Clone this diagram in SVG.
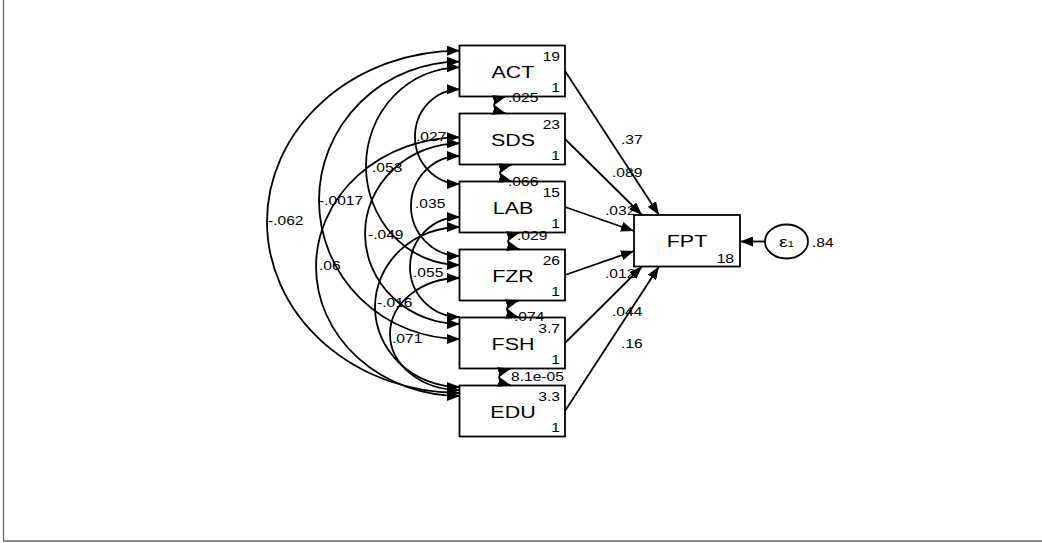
<svg xmlns="http://www.w3.org/2000/svg" width="1042" height="543" viewBox="0 0 1042 543">
<defs>
<marker id="ah" viewBox="0 0 13 10" refX="13" refY="5" markerWidth="13" markerHeight="10" markerUnits="userSpaceOnUse" orient="auto-start-reverse"><path d="M0,0 L13,5 L0,10 z" fill="#000"/></marker>
<style>
text{font-family:"Liberation Sans",Arial,sans-serif;fill:#000}
.n{font-size:16.5px;text-anchor:middle}
.s{font-size:12px}
.e{text-anchor:end}
.box{fill:#fff;stroke:#000;stroke-width:1.8}
.p{fill:none;stroke:#000;stroke-width:1.8;marker-end:url(#ah)}
.cv{fill:none;stroke:#000;stroke-width:1.8;marker-start:url(#ah);marker-end:url(#ah)}
.frame{fill:none;stroke:#666;stroke-width:1.3}
</style>
</defs>
<rect width="1042" height="543" fill="#fff"/>
<path class="frame" d="M3.5,0 V541 H1042"/>

<g id="ACT"><rect class="box" x="459.5" y="45.5" width="105.5" height="51"/>
<text class="n" transform="matrix(1.3 0 0 1 513 77.5)">ACT</text>
<text class="s e" transform="matrix(1.3 0 0 1 560 61)">19</text>
<text class="s e" transform="matrix(1.3 0 0 1 560 92)">1</text></g>

<g id="SDS"><rect class="box" x="459.5" y="113.5" width="105.5" height="51"/>
<text class="n" transform="matrix(1.3 0 0 1 513 145.5)">SDS</text>
<text class="s e" transform="matrix(1.3 0 0 1 560 129)">23</text>
<text class="s e" transform="matrix(1.3 0 0 1 560 160)">1</text></g>

<g id="LAB"><rect class="box" x="459.5" y="181.5" width="105.5" height="51"/>
<text class="n" transform="matrix(1.3 0 0 1 513 213.5)">LAB</text>
<text class="s e" transform="matrix(1.3 0 0 1 560 197)">15</text>
<text class="s e" transform="matrix(1.3 0 0 1 560 228)">1</text></g>

<g id="FZR"><rect class="box" x="459.5" y="249.5" width="105.5" height="51"/>
<text class="n" transform="matrix(1.3 0 0 1 513 281.5)">FZR</text>
<text class="s e" transform="matrix(1.3 0 0 1 560 265)">26</text>
<text class="s e" transform="matrix(1.3 0 0 1 560 296)">1</text></g>

<g id="FSH"><rect class="box" x="459.5" y="317.5" width="105.5" height="51"/>
<text class="n" transform="matrix(1.3 0 0 1 513 349.5)">FSH</text>
<text class="s e" transform="matrix(1.3 0 0 1 560 333)">3.7</text>
<text class="s e" transform="matrix(1.3 0 0 1 560 364)">1</text></g>

<g id="EDU"><rect class="box" x="459.5" y="385.5" width="105.5" height="51"/>
<text class="n" transform="matrix(1.3 0 0 1 513 417.5)">EDU</text>
<text class="s e" transform="matrix(1.3 0 0 1 560 401)">3.3</text>
<text class="s e" transform="matrix(1.3 0 0 1 560 432)">1</text></g>

<g id="FPT"><rect class="box" x="634" y="215" width="106" height="51.5"/>
<text class="n" transform="matrix(1.3 0 0 1 687 247)">FPT</text>
<text class="s e" transform="matrix(1.3 0 0 1 734 263)">18</text></g>

<g id="e1"><ellipse cx="786.5" cy="241.5" rx="21.5" ry="17" fill="#fff" stroke="#000" stroke-width="1.8"/>
<text transform="matrix(1.3 0 0 1 779 247)" style="font-size:15px">ε<tspan style="font-size:8.5px">1</tspan></text></g>

<g id="connectors">
<path class="p" d="M565,71 L659,215"/>
<path class="p" d="M565,139 L642,215"/>
<path class="p" d="M565,207 L634,231"/>
<path class="p" d="M565,275 L634,251"/>
<path class="p" d="M565,343 L642,266.5"/>
<path class="p" d="M565,411 L659,266.5"/>
<path class="p" d="M765,241.5 L740,241.5"/>

<path class="cv" d="M460,50.7 A193,171.15 0 0 0 460,393"/>
<path class="cv" d="M460,61.7 A141,138.65 0 0 0 460,339"/>
<path class="cv" d="M460,67.3 A94,98.85 0 0 0 460,265"/>
<path class="cv" d="M460,89.3 A45,47.35 0 0 0 460,184"/>
<path class="cv" d="M460,137.3 A144,129.35 0 0 0 460,396"/>
<path class="cv" d="M460,143.3 A95,90.35 0 0 0 460,324"/>
<path class="cv" d="M460,156 A49,50 0 0 0 460,256"/>
<path class="cv" d="M460,227 A85,80 0 0 0 460,387"/>
<path class="cv" d="M460,217 A50,50 0 0 0 460,317"/>
<path class="cv" d="M460,278 A70,56 0 0 0 460,390"/>

<path class="cv" d="M506,96.5 C490,101 490,109 506,113.5"/>
<path class="cv" d="M512,164.5 C496,169 496,177 512,181.5"/>
<path class="cv" d="M520,232.5 C504,237 504,245 520,249.5"/>
<path class="cv" d="M519,300.5 C503,305 503,313 519,317.5"/>
<path class="cv" d="M511,368.5 C495,373 495,381 511,385.5"/>

<text class="s" transform="matrix(1.3 0 0 1 621 144)">.37</text>
<text class="s" transform="matrix(1.3 0 0 1 612 176.5)">.089</text>
<text class="s" transform="matrix(1.3 0 0 1 605 215)">.032</text>
<text class="s" transform="matrix(1.3 0 0 1 605 278)">.012</text>
<text class="s" transform="matrix(1.3 0 0 1 612 315.5)">.044</text>
<text class="s" transform="matrix(1.3 0 0 1 621 347.5)">.16</text>
<text class="s" transform="matrix(1.3 0 0 1 812 247)">.84</text>

<text class="s" transform="matrix(1.3 0 0 1 508 101.5)">.025</text>
<text class="s" transform="matrix(1.3 0 0 1 508 186)">.066</text>
<text class="s" transform="matrix(1.3 0 0 1 517 239.5)">.029</text>
<text class="s" transform="matrix(1.3 0 0 1 514 321)">.074</text>
<text class="s" transform="matrix(1.3 0 0 1 511 380.5)">8.1e-05</text>

<text class="s" transform="matrix(1.3 0 0 1 268 225)">-.062</text>
<text class="s" transform="matrix(1.3 0 0 1 319 205)">-.0017</text>
<text class="s" transform="matrix(1.3 0 0 1 372 172)">.053</text>
<text class="s" transform="matrix(1.3 0 0 1 416 141)">.027</text>
<text class="s" transform="matrix(1.3 0 0 1 415 208)">.035</text>
<text class="s" transform="matrix(1.3 0 0 1 368 239)">-.049</text>
<text class="s" transform="matrix(1.3 0 0 1 319 270)">.06</text>
<text class="s" transform="matrix(1.3 0 0 1 413 277)">.055</text>
<text class="s" transform="matrix(1.3 0 0 1 377 307)">-.016</text>
<text class="s" transform="matrix(1.3 0 0 1 392 343)">.071</text>
</g>
</svg>
